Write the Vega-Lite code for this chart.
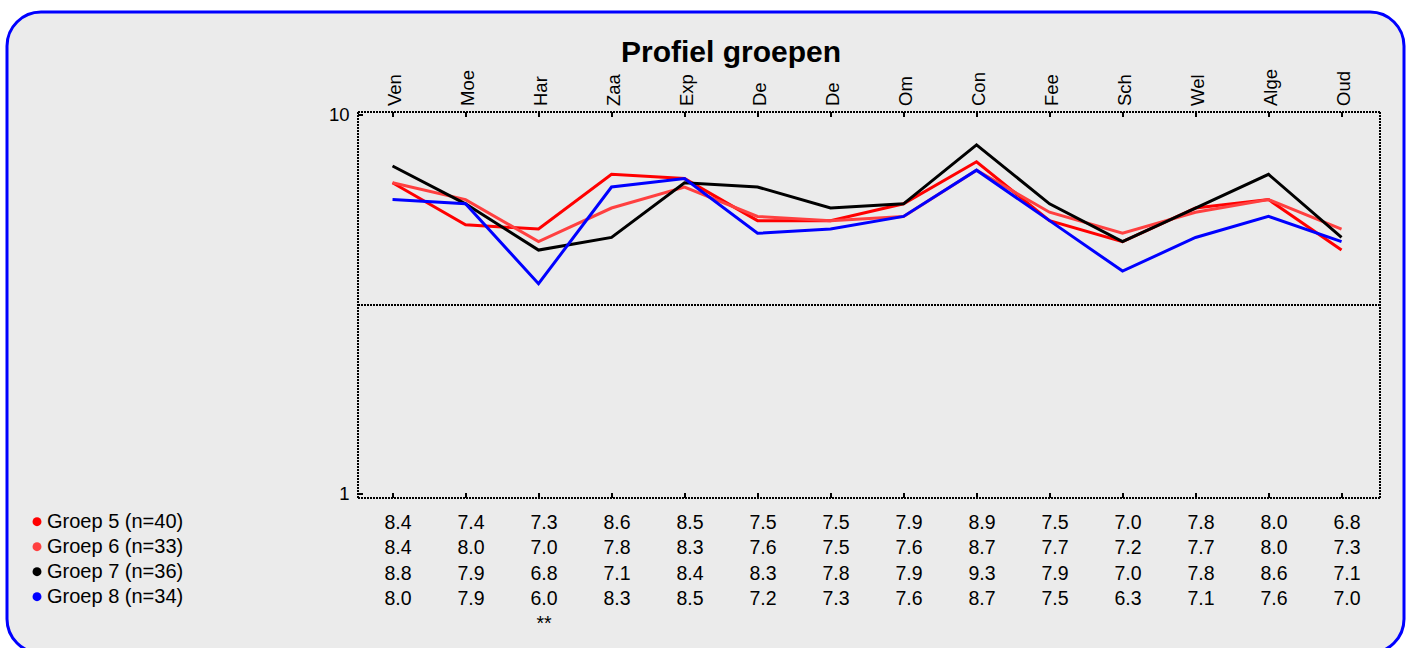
{
  "$schema": "https://vega.github.io/schema/vega-lite/v6.json",
  "width": 1397,
  "height": 641,
  "autosize": {"type": "none"},
  "padding": {"left": 7, "top": 12, "right": 8, "bottom": -5},
  "background": "#ffffff",
  "config": {
    "font": "Liberation Sans",
    "view": {"fill": "#ebebeb", "stroke": "#0000ff", "strokeWidth": 3, "cornerRadius": 34},
    "axis": {"labelFont": "Liberation Sans", "labelColor": "#000000", "labelFontSize": 18.5, "tickColor": "#000000", "tickWidth": 2, "domainColor": "#000000", "domainWidth": 2, "domainDash": [2, 1], "grid": false, "translate": 0}
  },
  "title": {"text": "Profiel groepen", "font": "Liberation Sans", "fontSize": 30, "fontWeight": "bold", "color": "#000000", "anchor": "middle", "frame": "group", "baseline": "alphabetic", "offset": -80, "dx": 25.5},
  "datasets": {
    "scores": [
      {"category": "Ven", "group": "Groep 5 (n=40)", "score": 8.4},
      {"category": "Moe", "group": "Groep 5 (n=40)", "score": 7.4},
      {"category": "Har", "group": "Groep 5 (n=40)", "score": 7.3},
      {"category": "Zaa", "group": "Groep 5 (n=40)", "score": 8.6},
      {"category": "Exp", "group": "Groep 5 (n=40)", "score": 8.5},
      {"category": "De1", "group": "Groep 5 (n=40)", "score": 7.5},
      {"category": "De2", "group": "Groep 5 (n=40)", "score": 7.5},
      {"category": "Om", "group": "Groep 5 (n=40)", "score": 7.9},
      {"category": "Con", "group": "Groep 5 (n=40)", "score": 8.9},
      {"category": "Fee", "group": "Groep 5 (n=40)", "score": 7.5},
      {"category": "Sch", "group": "Groep 5 (n=40)", "score": 7.0},
      {"category": "Wel", "group": "Groep 5 (n=40)", "score": 7.8},
      {"category": "Alge", "group": "Groep 5 (n=40)", "score": 8.0},
      {"category": "Oud", "group": "Groep 5 (n=40)", "score": 6.8},
      {"category": "Ven", "group": "Groep 6 (n=33)", "score": 8.4},
      {"category": "Moe", "group": "Groep 6 (n=33)", "score": 8.0},
      {"category": "Har", "group": "Groep 6 (n=33)", "score": 7.0},
      {"category": "Zaa", "group": "Groep 6 (n=33)", "score": 7.8},
      {"category": "Exp", "group": "Groep 6 (n=33)", "score": 8.3},
      {"category": "De1", "group": "Groep 6 (n=33)", "score": 7.6},
      {"category": "De2", "group": "Groep 6 (n=33)", "score": 7.5},
      {"category": "Om", "group": "Groep 6 (n=33)", "score": 7.6},
      {"category": "Con", "group": "Groep 6 (n=33)", "score": 8.7},
      {"category": "Fee", "group": "Groep 6 (n=33)", "score": 7.7},
      {"category": "Sch", "group": "Groep 6 (n=33)", "score": 7.2},
      {"category": "Wel", "group": "Groep 6 (n=33)", "score": 7.7},
      {"category": "Alge", "group": "Groep 6 (n=33)", "score": 8.0},
      {"category": "Oud", "group": "Groep 6 (n=33)", "score": 7.3},
      {"category": "Ven", "group": "Groep 7 (n=36)", "score": 8.8},
      {"category": "Moe", "group": "Groep 7 (n=36)", "score": 7.9},
      {"category": "Har", "group": "Groep 7 (n=36)", "score": 6.8},
      {"category": "Zaa", "group": "Groep 7 (n=36)", "score": 7.1},
      {"category": "Exp", "group": "Groep 7 (n=36)", "score": 8.4},
      {"category": "De1", "group": "Groep 7 (n=36)", "score": 8.3},
      {"category": "De2", "group": "Groep 7 (n=36)", "score": 7.8},
      {"category": "Om", "group": "Groep 7 (n=36)", "score": 7.9},
      {"category": "Con", "group": "Groep 7 (n=36)", "score": 9.3},
      {"category": "Fee", "group": "Groep 7 (n=36)", "score": 7.9},
      {"category": "Sch", "group": "Groep 7 (n=36)", "score": 7.0},
      {"category": "Wel", "group": "Groep 7 (n=36)", "score": 7.8},
      {"category": "Alge", "group": "Groep 7 (n=36)", "score": 8.6},
      {"category": "Oud", "group": "Groep 7 (n=36)", "score": 7.1},
      {"category": "Ven", "group": "Groep 8 (n=34)", "score": 8.0},
      {"category": "Moe", "group": "Groep 8 (n=34)", "score": 7.9},
      {"category": "Har", "group": "Groep 8 (n=34)", "score": 6.0},
      {"category": "Zaa", "group": "Groep 8 (n=34)", "score": 8.3},
      {"category": "Exp", "group": "Groep 8 (n=34)", "score": 8.5},
      {"category": "De1", "group": "Groep 8 (n=34)", "score": 7.2},
      {"category": "De2", "group": "Groep 8 (n=34)", "score": 7.3},
      {"category": "Om", "group": "Groep 8 (n=34)", "score": 7.6},
      {"category": "Con", "group": "Groep 8 (n=34)", "score": 8.7},
      {"category": "Fee", "group": "Groep 8 (n=34)", "score": 7.5},
      {"category": "Sch", "group": "Groep 8 (n=34)", "score": 6.3},
      {"category": "Wel", "group": "Groep 8 (n=34)", "score": 7.1},
      {"category": "Alge", "group": "Groep 8 (n=34)", "score": 7.6},
      {"category": "Oud", "group": "Groep 8 (n=34)", "score": 7.0}
    ],
    "markers": [
      {"category": "Har", "group": "**", "marker": "**"}
    ]
  },
  "layer": [
    {
      "data": {"name": "scores"},
      "mark": {"type": "line", "strokeWidth": 3},
      "encoding": {
        "x": {
          "field": "category", "type": "nominal",
          "sort": ["Ven", "Moe", "Har", "Zaa", "Exp", "De1", "De2", "Om", "Con", "Fee", "Sch", "Wel", "Alge", "Oud"],
          "scale": {"type": "point", "range": [351, 1373], "padding": 0.5, "align": 0.473},
          "axis": {"orient": "top", "offset": -100, "title": null, "labelAngle": -90, "labelAlign": "left", "labelBaseline": "middle", "labelPadding": 11, "labelOffset": 2.5, "tickSize": -5, "labelOverlap": false, "labelExpr": "replace(datum.label, /[0-9]/, '')"}
        },
        "y": {
          "field": "score", "type": "quantitative",
          "scale": {"domain": [0.905, 10.083], "range": [486, 100], "nice": false, "zero": false},
          "axis": {"orient": "left", "offset": -351, "title": null, "values": [1, 10], "format": "d", "tickSize": -5, "labelPadding": 13.5}
        },
        "color": {
          "field": "group", "type": "nominal",
          "scale": {"domain": ["Groep 5 (n=40)", "Groep 6 (n=33)", "Groep 7 (n=36)", "Groep 8 (n=34)"], "range": ["#ff0000", "#ff4040", "#000000", "#0000ff"]},
          "legend": {
            "orient": "none", "legendX": 20, "legendY": 499.7, "title": null, "padding": 0,
            "symbolType": "circle", "symbolSize": 80, "symbolStrokeWidth": 0,
            "labelFont": "Liberation Sans", "labelFontSize": 20, "labelColor": "#000000", "labelOffset": 0, "labelLimit": 400, "rowPadding": 5,
            "encode": {"symbols": {"update": {"fill": {"scale": "color", "field": "value"}, "fillOpacity": {"value": 1}, "opacity": {"value": 1}}}}
          }
        }
      }
    },
    {
      "data": {"name": "scores"},
      "mark": {"type": "point", "opacity": 0},
      "encoding": {
        "x": {
          "field": "category", "type": "nominal",
          "sort": ["Ven", "Moe", "Har", "Zaa", "Exp", "De1", "De2", "Om", "Con", "Fee", "Sch", "Wel", "Alge", "Oud"],
          "axis": {"orient": "bottom", "offset": -155, "title": null, "labels": false, "tickSize": -5}
        },
        "y": {
          "field": "score", "type": "quantitative",
          "scale": {"domain": [0.905, 10.083], "range": [486, 100], "nice": false, "zero": false},
          "axis": {"orient": "left", "offset": -351, "title": null, "labels": false, "ticks": false, "domain": false, "values": [5.5], "grid": true, "gridColor": "#000000", "gridWidth": 2, "gridDash": [2, 1], "gridOpacity": 1}
        }
      }
    },
    {
      "data": {"name": "scores"},
      "mark": {"type": "point", "opacity": 0},
      "encoding": {
        "x": {
          "field": "category", "type": "nominal",
          "sort": ["Ven", "Moe", "Har", "Zaa", "Exp", "De1", "De2", "Om", "Con", "Fee", "Sch", "Wel", "Alge", "Oud"],
          "axis": null
        },
        "y": {
          "field": "score", "type": "quantitative",
          "scale": {"domain": [0.905, 10.083], "range": [486, 100], "nice": false, "zero": false},
          "axis": {"orient": "right", "offset": -24, "title": null, "labels": false, "ticks": false, "values": [5.5]}
        }
      }
    },
    {
      "layer": [
        {
          "data": {"name": "scores"},
          "mark": {"type": "text", "font": "Liberation Sans", "fontSize": 19.5, "dx": 5.5, "color": "#000000"},
          "encoding": {
            "x": {
              "field": "category", "type": "nominal",
              "sort": ["Ven", "Moe", "Har", "Zaa", "Exp", "De1", "De2", "Om", "Con", "Fee", "Sch", "Wel", "Alge", "Oud"],
              "axis": null
            },
            "y": {
              "field": "group", "type": "nominal",
              "scale": {"type": "point", "domain": ["Groep 5 (n=40)", "Groep 6 (n=33)", "Groep 7 (n=36)", "Groep 8 (n=34)", "**"], "range": [511.3, 611.7], "padding": 0},
              "axis": null
            },
            "text": {"field": "score", "type": "quantitative", "format": ".1f"}
          }
        },
        {
          "data": {"name": "markers"},
          "mark": {"type": "text", "font": "Liberation Sans", "fontSize": 19.5, "dx": 5.5, "color": "#000000"},
          "encoding": {
            "x": {
              "field": "category", "type": "nominal",
              "sort": ["Ven", "Moe", "Har", "Zaa", "Exp", "De1", "De2", "Om", "Con", "Fee", "Sch", "Wel", "Alge", "Oud"],
              "axis": null
            },
            "y": {"field": "group", "type": "nominal", "axis": null},
            "text": {"field": "marker", "type": "nominal"}
          }
        }
      ]
    }
  ],
  "resolve": {"scale": {"y": "independent"}, "axis": {"x": "independent", "y": "independent"}}
}
